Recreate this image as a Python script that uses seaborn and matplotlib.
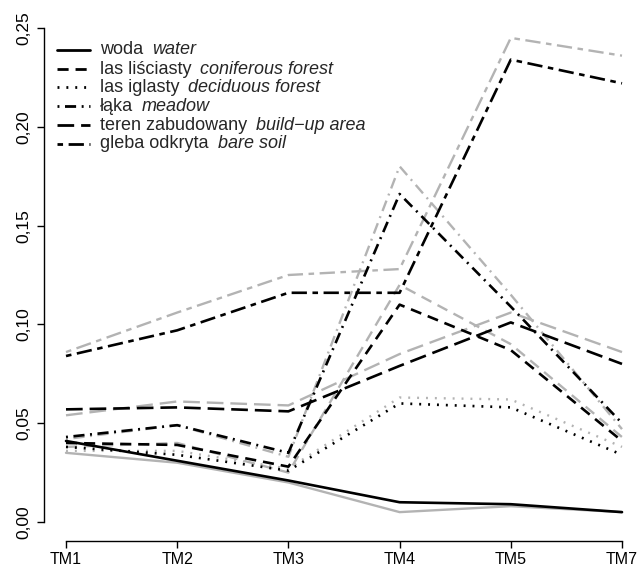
import numpy as np
import pandas as pd
import matplotlib
matplotlib.use('Agg')
import matplotlib.pyplot as plt
from matplotlib.lines import Line2D
import seaborn as sns

# Band names (TM6 is skipped in the source figure)
bands = ['TM1', 'TM2', 'TM3', 'TM4', 'TM5', 'TM7']
classes_pl = ['woda', 'las liściasty', 'las iglasty', 'łąka', 'teren zabudowany', 'gleba odkryta']
classes_en = ['water', 'coniferous forest', 'deciduous forest', 'meadow', 'build\u2212up area', 'bare soil']
y_ticks = [0.00, 0.05, 0.10, 0.15, 0.20, 0.25]
y_tick_labels = ['0,00', '0,05', '0,10', '0,15', '0,20', '0,25']

# Reflectance values - black series
black_woda = [0.041, 0.031, 0.021, 0.010, 0.009, 0.005]
black_lisciasty = [0.040, 0.039, 0.028, 0.110, 0.087, 0.041]
black_iglasty = [0.038, 0.034, 0.026, 0.060, 0.058, 0.034]
black_laka = [0.043, 0.049, 0.035, 0.166, 0.109, 0.050]
black_zabudowany = [0.057, 0.058, 0.056, 0.079, 0.101, 0.080]
black_gleba = [0.084, 0.097, 0.116, 0.116, 0.234, 0.222]

# grey series
grey_woda = [0.035, 0.030, 0.020, 0.005, 0.008, 0.005]
grey_lisciasty = [0.038, 0.040, 0.025, 0.120, 0.090, 0.043]
grey_iglasty = [0.036, 0.036, 0.027, 0.063, 0.062, 0.038]
grey_laka = [0.042, 0.049, 0.033, 0.180, 0.115, 0.047]
grey_zabudowany = [0.054, 0.061, 0.059, 0.085, 0.106, 0.086]
grey_gleba = [0.086, 0.106, 0.125, 0.128, 0.245, 0.236]

black_vals = [black_woda, black_lisciasty, black_iglasty, black_laka, black_zabudowany, black_gleba]
grey_vals = [grey_woda, grey_lisciasty, grey_iglasty, grey_laka, grey_zabudowany, grey_gleba]


def long_frame(vals):
    rows = []
    for cls, v in zip(classes_pl, vals):
        for i, val in enumerate(v):
            rows.append({'band': i, 'klasa': cls, 'value': val})
    return pd.DataFrame(rows)


df_black = long_frame(black_vals)
df_grey = long_frame(grey_vals)

sns.set_style('ticks')
plt.rcParams['font.family'] = ['Liberation Sans', 'DejaVu Sans']
plt.rcParams['lines.scale_dashes'] = False

# dash patterns (points), similar to R lty 1..6
dash_map = {
    'woda': '',
    'las liściasty': (8, 5),
    'las iglasty': (1.4, 5),
    'łąka': (1.4, 4, 8, 4),
    'teren zabudowany': (12, 5),
    'gleba odkryta': (4, 4, 11, 4),
}

W, H = 637, 579
fig = plt.figure(figsize=(W / 100, H / 100), dpi=100)
ax = fig.add_axes([66 / W, 1 - 522 / H, (622 - 66) / W, (522 - 28) / H])

sns.lineplot(data=df_grey, x='band', y='value', style='klasa', style_order=classes_pl,
             dashes=dash_map, color='#b3b3b3', lw=1.7, legend=False, ax=ax)
sns.lineplot(data=df_black, x='band', y='value', style='klasa', style_order=classes_pl,
             dashes=dash_map, color='black', lw=1.9, legend=False, ax=ax)
for ln in ax.lines:
    ln.set_clip_on(False)

ax.set_xlim(0, len(bands) - 1)
ax.set_ylim(0, 0.25)
ax.set_xlabel('')
ax.set_ylabel('')

sns.despine(ax=ax)
ax.spines['left'].set_position(('outward', 22 * 0.72))
ax.spines['bottom'].set_position(('outward', 19 * 0.72))
ax.spines['left'].set_bounds(0, 0.25)
ax.spines['bottom'].set_bounds(0, len(bands) - 1)
for s in ['left', 'bottom']:
    ax.spines[s].set_linewidth(1.0)
    ax.spines[s].set_color('black')
ax.tick_params(axis='both', length=5, width=1.0, colors='black')
ax.tick_params(axis='y', pad=4, labelsize=12.5)
ax.tick_params(axis='x', pad=3, labelsize=11.5)

ax.set_xticks(range(len(bands)))
ax.set_xticklabels(bands)
ax.set_yticks(y_ticks)
ax.set_yticklabels(y_tick_labels, rotation=90, va='center')

# legend, drawn by hand to match the tight R layout
rows_px = [50, 69, 87, 106, 125, 144]
texts = []
for cls, py in zip(classes_pl, rows_px):
    fy = 1 - py / H
    fig.add_artist(Line2D([57 / W, 90 / W], [fy, fy], transform=fig.transFigure,
                          color='black', lw=2.0, dashes=dash_map[cls] if dash_map[cls] else (None, None)))
    t = fig.text(100 / W, fy, cls, fontsize=13, va='center', ha='left')
    texts.append(t)

fig.canvas.draw()
renderer = fig.canvas.get_renderer()
for t, en, py in zip(texts, classes_en, rows_px):
    bb = t.get_window_extent(renderer)
    fig.text((bb.x1 + 9) / W, 1 - py / H, en, fontsize=13, va='center', ha='left', style='italic')

fig.savefig('out.png', dpi=100)
